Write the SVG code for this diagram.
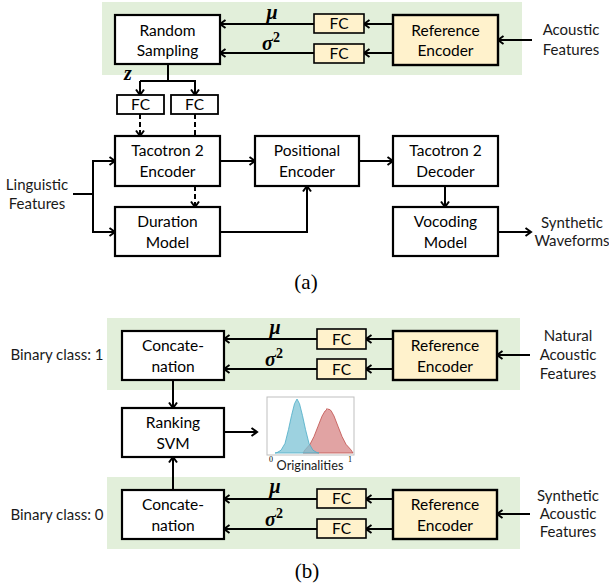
<svg xmlns="http://www.w3.org/2000/svg" width="609" height="588" viewBox="0 0 609 588">
<style>
.t{font-family:Lato,"Liberation Sans",sans-serif;font-size:15.5px;text-anchor:middle;fill:#000}
.s{font-family:Lato,"Liberation Sans",sans-serif;font-size:15px;text-anchor:middle;fill:#1a1a1a}
.m{font-family:"Liberation Serif",serif;font-style:italic;font-weight:bold;font-size:20px;text-anchor:middle;fill:#000}
.sup{font-style:normal;font-size:14px}
.cap{font-family:"Liberation Serif",serif;font-size:21px;text-anchor:middle;fill:#000}
.band{fill:#e2efda}
.box{fill:#fff;stroke:#000;stroke-width:2.2}
.ybox{fill:#fff2cc;stroke:#000;stroke-width:2.4}
.fc{fill:#fff2cc;stroke:#000;stroke-width:1.6}
.wfc{fill:#fff;stroke:#000;stroke-width:1.8}
.c{fill:none;stroke:#000;stroke-width:2}
.d{fill:none;stroke:#000;stroke-width:2;stroke-dasharray:5 3}
</style>
<defs>
<marker id="ah" viewBox="0 0 10 10" refX="8.5" refY="5" markerWidth="10" markerHeight="10" markerUnits="userSpaceOnUse" orient="auto"><path d="M3,1 L8.5,5 L3,9" fill="none" stroke="#000" stroke-width="2"/></marker>
</defs>
<rect width="609" height="588" fill="#fff"/>

<rect class="band" x="102" y="2" width="420" height="73"/>
<rect class="band" x="107" y="318" width="413" height="72"/>
<rect class="band" x="107" y="477" width="413" height="72"/>

<g id="connectors">
  <line class="c" x1="393" y1="24" x2="364" y2="24" marker-end="url(#ah)"/>
  <line class="c" x1="393" y1="53" x2="364" y2="53" marker-end="url(#ah)"/>
  <line class="c" x1="314" y1="24" x2="220" y2="24" marker-end="url(#ah)"/>
  <line class="c" x1="314" y1="53" x2="220" y2="53" marker-end="url(#ah)"/>
  <line class="c" x1="532" y1="40" x2="498" y2="40" marker-end="url(#ah)"/>
  <polyline class="c" points="168,64 168,81"/>
  <polyline class="c" points="140,81 195,81 195,95" marker-end="url(#ah)"/>
  <line class="c" x1="140" y1="81" x2="140" y2="95" marker-end="url(#ah)"/>
  <line class="d" x1="140" y1="114" x2="140" y2="136" marker-end="url(#ah)"/>
  <line class="d" x1="195" y1="114" x2="195" y2="136"/>
  <line class="d" x1="195" y1="186" x2="195" y2="207" marker-end="url(#ah)"/>
  <line class="c" x1="73" y1="194" x2="93" y2="194"/>
  <polyline class="c" points="93,194 93,161 115,161" marker-end="url(#ah)"/>
  <polyline class="c" points="93,194 93,232 115,232" marker-end="url(#ah)"/>
  <line class="c" x1="220" y1="161" x2="255" y2="161" marker-end="url(#ah)"/>
  <polyline class="c" points="220,232 307,232 307,186" marker-end="url(#ah)"/>
  <line class="c" x1="359" y1="161" x2="393" y2="161" marker-end="url(#ah)"/>
  <line class="c" x1="445" y1="186" x2="445" y2="207" marker-end="url(#ah)"/>
  <line class="c" x1="498" y1="232" x2="531" y2="232" marker-end="url(#ah)"/>
  <line class="c" x1="393" y1="339" x2="366" y2="339" marker-end="url(#ah)"/>
  <line class="c" x1="393" y1="369" x2="366" y2="369" marker-end="url(#ah)"/>
  <line class="c" x1="317" y1="339" x2="224" y2="339" marker-end="url(#ah)"/>
  <line class="c" x1="317" y1="369" x2="224" y2="369" marker-end="url(#ah)"/>
  <line class="c" x1="530" y1="355" x2="497" y2="355" marker-end="url(#ah)"/>
  <line class="c" x1="173" y1="380" x2="173" y2="408" marker-end="url(#ah)"/>
  <line class="c" x1="224" y1="432" x2="257" y2="432" marker-end="url(#ah)"/>
  <line class="c" x1="393" y1="499" x2="366" y2="499" marker-end="url(#ah)"/>
  <line class="c" x1="393" y1="529" x2="366" y2="529" marker-end="url(#ah)"/>
  <line class="c" x1="317" y1="499" x2="224" y2="499" marker-end="url(#ah)"/>
  <line class="c" x1="317" y1="529" x2="224" y2="529" marker-end="url(#ah)"/>
  <line class="c" x1="530" y1="514" x2="497" y2="514" marker-end="url(#ah)"/>
  <line class="c" x1="173" y1="490" x2="173" y2="457" marker-end="url(#ah)"/>
</g>

<text class="m" x="272" y="19">μ</text>
<text class="m" x="271" y="50">σ<tspan class="sup" dy="-8">2</tspan></text>
<text class="m" x="128" y="80" font-size="18">z</text>
<text class="m" x="275" y="334">μ</text>
<text class="m" x="274" y="366">σ<tspan class="sup" dy="-8">2</tspan></text>
<text class="m" x="275" y="493">μ</text>
<text class="m" x="274" y="526">σ<tspan class="sup" dy="-8">2</tspan></text>

<g id="random-sampling"><rect class="box" x="115" y="15" width="105" height="49"/><text class="t" x="167.5" y="35.5">Random</text><text class="t" x="167.5" y="56">Sampling</text></g>
<g id="fc-mu-a"><rect class="fc" x="314" y="14" width="50" height="19"/><text class="t" x="339" y="29">FC</text></g>
<g id="fc-sig-a"><rect class="fc" x="314" y="44" width="50" height="19"/><text class="t" x="339" y="59">FC</text></g>
<g id="ref-enc-a"><rect class="ybox" x="393" y="15" width="105" height="50"/><text class="t" x="445.5" y="35.5">Reference</text><text class="t" x="445.5" y="56">Encoder</text></g>
<g id="acoustic-a"><text class="s" x="571" y="35">Acoustic</text><text class="s" x="571" y="55">Features</text></g>
<g id="fc-z1"><rect class="wfc" x="117" y="95" width="47" height="19"/><text class="t" x="140.5" y="110">FC</text></g>
<g id="fc-z2"><rect class="wfc" x="171" y="95" width="47" height="19"/><text class="t" x="194.5" y="110">FC</text></g>
<g id="linguistic"><text class="s" x="37" y="190">Linguistic</text><text class="s" x="37" y="209">Features</text></g>
<g id="tac-enc"><rect class="box" x="115" y="136" width="105" height="50"/><text class="t" x="167.5" y="156">Tacotron 2</text><text class="t" x="167.5" y="177">Encoder</text></g>
<g id="duration"><rect class="box" x="115" y="207" width="105" height="49"/><text class="t" x="167.5" y="227">Duration</text><text class="t" x="167.5" y="248">Model</text></g>
<g id="positional"><rect class="box" x="255" y="136" width="104" height="50"/><text class="t" x="307" y="156">Positional</text><text class="t" x="307" y="177">Encoder</text></g>
<g id="tac-dec"><rect class="box" x="393" y="136" width="105" height="50"/><text class="t" x="445.5" y="156">Tacotron 2</text><text class="t" x="445.5" y="177">Decoder</text></g>
<g id="vocoding"><rect class="box" x="393" y="207" width="105" height="49"/><text class="t" x="445.5" y="227">Vocoding</text><text class="t" x="445.5" y="248">Model</text></g>
<g id="synthetic-wave"><text class="s" x="572" y="228">Synthetic</text><text class="s" x="572" y="246">Waveforms</text></g>
<text class="cap" x="306" y="289">(a)</text>

<g id="binary1"><text class="s" x="57" y="360">Binary class: 1</text></g>
<g id="concat-1"><rect class="box" x="122" y="331" width="102" height="49"/><text class="t" x="173" y="351">Concate-</text><text class="t" x="173" y="372">nation</text></g>
<g id="fc-mu-b1"><rect class="fc" x="317" y="329" width="49" height="20"/><text class="t" x="341.5" y="344.5">FC</text></g>
<g id="fc-sig-b1"><rect class="fc" x="317" y="359" width="49" height="20"/><text class="t" x="341.5" y="374.5">FC</text></g>
<g id="ref-enc-b1"><rect class="ybox" x="393" y="331" width="104" height="49"/><text class="t" x="445" y="351">Reference</text><text class="t" x="445" y="372">Encoder</text></g>
<g id="natural"><text class="s" x="568" y="341">Natural</text><text class="s" x="568" y="360">Acoustic</text><text class="s" x="568" y="379">Features</text></g>
<g id="ranking"><rect class="box" x="122" y="408" width="102" height="49"/><text class="t" x="173" y="428">Ranking</text><text class="t" x="173" y="449">SVM</text></g>
<g id="histogram">
  <rect x="267" y="397" width="87" height="58" fill="#fff" stroke="#bfbfbf" stroke-width="1"/>
  <path d="M303,453 L305,449.9 L310,444.3 L314,436.5 L318,426.3 L322,416.2 L325,411 L326,410.5 L327,408.5 L328,409.5 L329,409 L330,410 L331,410.5 L334,416 L338,426.3 L342,436.5 L346,444.3 L351,449.9 L353,453 Z" fill="#d98c8c" fill-opacity="0.8" stroke="#c0504d" stroke-width="0.8"/>
  <path d="M275,453 L277,452.6 L281,450.2 L285,443.4 L288.5,429.4 L291.5,415.6 L294.5,403.7 L297,399 L299.5,403.7 L302.5,415.6 L305.5,429.4 L309,443.4 L313,450.2 L317,452.6 L319,453 Z" fill="#7cc3d6" fill-opacity="0.75" stroke="#4bacc6" stroke-width="0.8"/>
  <text x="271" y="462" font-family="Liberation Serif,serif" font-size="8" text-anchor="middle">0</text>
  <text x="350" y="462" font-family="Liberation Serif,serif" font-size="8" text-anchor="middle">1</text>
  <text x="310" y="470" font-family="Lato,'Liberation Sans',sans-serif" font-size="12.7" text-anchor="middle" fill="#1a1a1a">Originalities</text>
</g>
<g id="binary0"><text class="s" x="57" y="520">Binary class: 0</text></g>
<g id="concat-0"><rect class="box" x="122" y="490" width="102" height="49"/><text class="t" x="173" y="510">Concate-</text><text class="t" x="173" y="531">nation</text></g>
<g id="fc-mu-b0"><rect class="fc" x="317" y="489" width="49" height="19"/><text class="t" x="341.5" y="504">FC</text></g>
<g id="fc-sig-b0"><rect class="fc" x="317" y="519" width="49" height="19"/><text class="t" x="341.5" y="534">FC</text></g>
<g id="ref-enc-b0"><rect class="ybox" x="393" y="490" width="104" height="49"/><text class="t" x="445" y="510">Reference</text><text class="t" x="445" y="531">Encoder</text></g>
<g id="synthetic-ac"><text class="s" x="568" y="501">Synthetic</text><text class="s" x="568" y="519">Acoustic</text><text class="s" x="568" y="537">Features</text></g>
<text class="cap" x="307" y="578">(b)</text>
</svg>
